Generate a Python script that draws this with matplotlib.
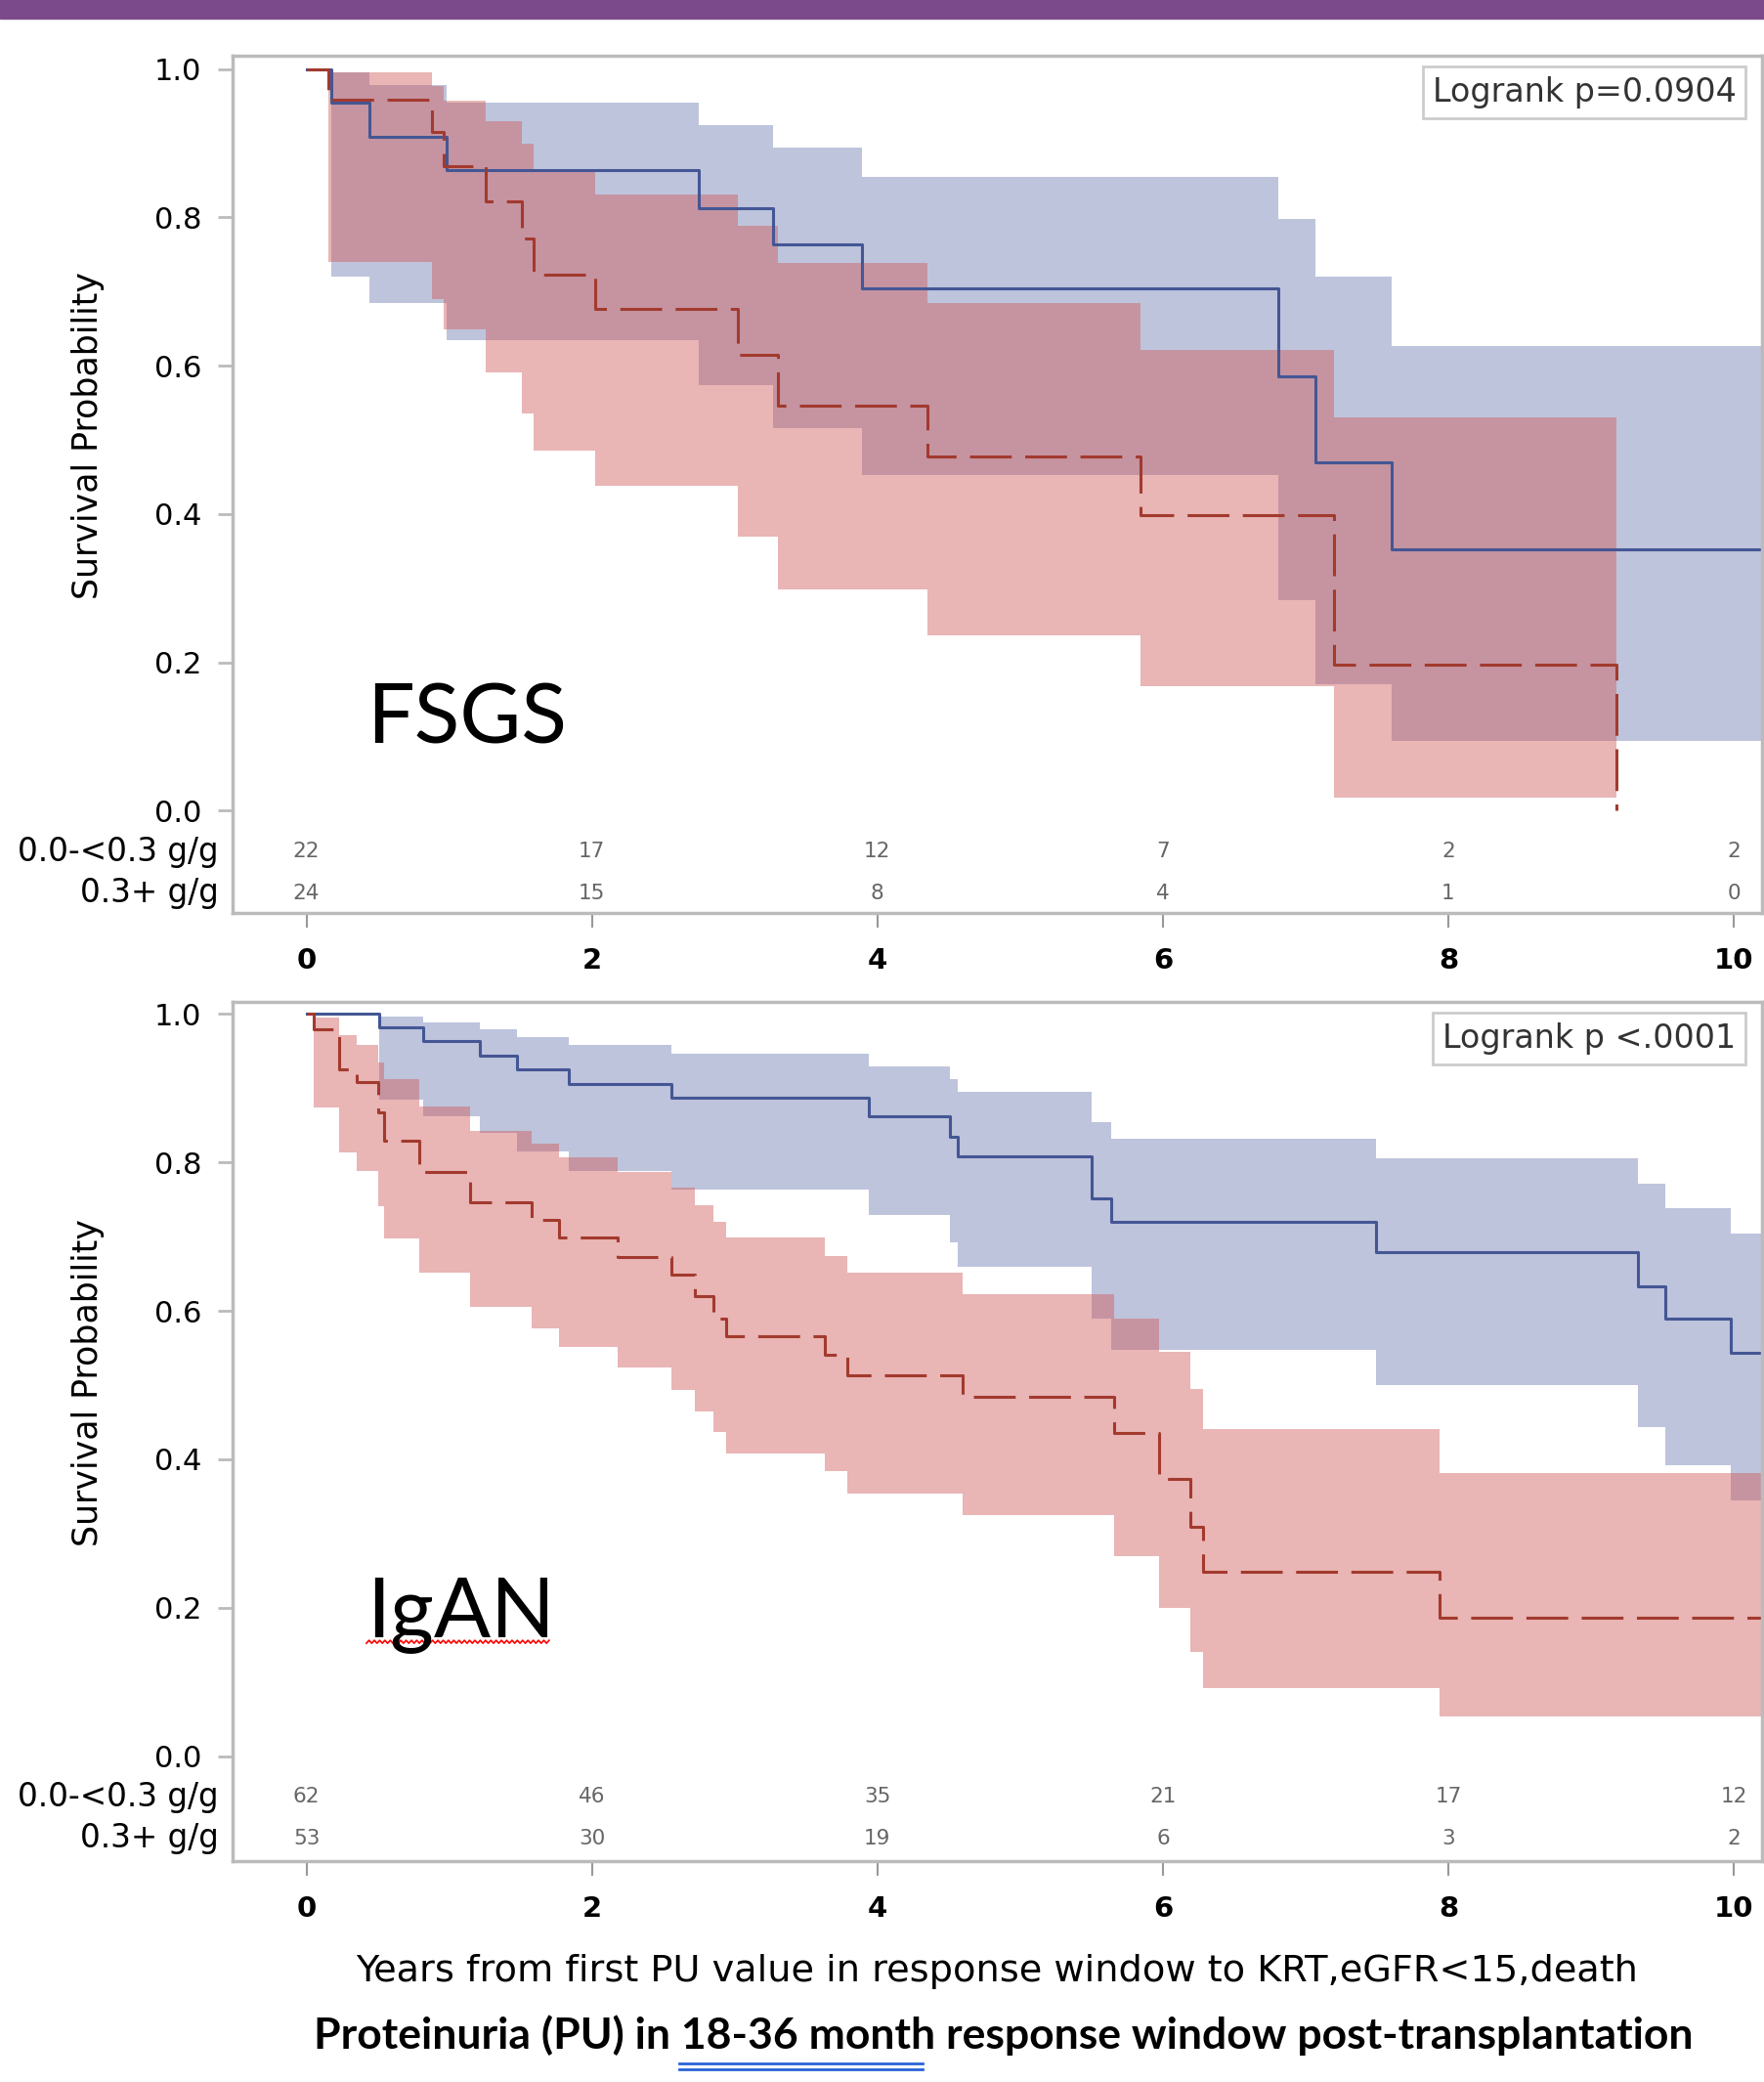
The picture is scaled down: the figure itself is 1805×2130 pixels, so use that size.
import numpy as np
import matplotlib.pyplot as plt
from matplotlib.patches import Rectangle
from matplotlib.lines import Line2D
import matplotlib.transforms as mtransforms

# ---- FSGS panel ----
fsgs_lo_t = [0, 0.175, 0.44, 0.98, 2.75, 3.27, 3.89, 6.81, 7.07, 7.60]
fsgs_lo_s = [1.0, 0.954, 0.908, 0.864, 0.812, 0.763, 0.704, 0.586, 0.469, 0.352]
fsgs_lo_ucl = [1.0, 0.995, 0.978, 0.954, 0.924, 0.894, 0.855, 0.798, 0.720, 0.627]
fsgs_lo_lcl = [1.0, 0.720, 0.685, 0.634, 0.574, 0.516, 0.453, 0.284, 0.171, 0.094]

fsgs_hi_t = [0, 0.154, 0.88, 0.96, 1.255, 1.51, 1.59, 2.02, 3.02, 3.30, 4.35, 5.84, 7.20, 9.18]
fsgs_hi_s = [1.0, 0.958, 0.915, 0.869, 0.821, 0.771, 0.722, 0.677, 0.614, 0.546, 0.478, 0.398, 0.197, 0.0]
fsgs_hi_ucl = [1.0, 0.995, 0.977, 0.957, 0.929, 0.899, 0.864, 0.831, 0.788, 0.738, 0.685, 0.621, 0.530, 0.0]
fsgs_hi_lcl = [1.0, 0.740, 0.690, 0.649, 0.591, 0.536, 0.485, 0.438, 0.369, 0.299, 0.237, 0.168, 0.018, 0.0]

# ---- IgAN panel ----
igan_lo_t = [0, 0.51, 0.815, 1.217, 1.473, 1.84, 2.56, 3.94, 4.51, 4.56, 5.50, 5.64, 7.49, 9.33, 9.52, 9.98]
igan_lo_s = [1.0, 0.982, 0.964, 0.944, 0.926, 0.906, 0.887, 0.862, 0.834, 0.808, 0.751, 0.720, 0.679, 0.633, 0.589, 0.543]
igan_lo_ucl = [1.0, 0.997, 0.989, 0.980, 0.969, 0.959, 0.946, 0.930, 0.912, 0.895, 0.854, 0.832, 0.805, 0.772, 0.738, 0.704]
igan_lo_lcl = [1.0, 0.885, 0.862, 0.840, 0.815, 0.789, 0.764, 0.729, 0.692, 0.659, 0.590, 0.548, 0.500, 0.443, 0.392, 0.344]

igan_hi_t = [0, 0.05, 0.23, 0.35, 0.50, 0.545, 0.79, 1.146, 1.577, 1.768, 2.18, 2.56, 2.72, 2.85,
             2.94, 3.63, 3.79, 4.60, 5.66, 5.97, 6.19, 6.28, 7.94]
igan_hi_s = [1.0, 0.980, 0.925, 0.908, 0.868, 0.830, 0.787, 0.746, 0.723, 0.699, 0.673, 0.649, 0.620, 0.590,
             0.566, 0.541, 0.513, 0.484, 0.435, 0.374, 0.309, 0.248, 0.186]
igan_hi_ucl = [1.0, 0.996, 0.971, 0.959, 0.935, 0.912, 0.876, 0.843, 0.825, 0.807, 0.787, 0.766, 0.742, 0.720,
               0.699, 0.674, 0.651, 0.623, 0.590, 0.545, 0.495, 0.441, 0.381]
igan_hi_lcl = [1.0, 0.874, 0.813, 0.788, 0.741, 0.697, 0.651, 0.605, 0.577, 0.551, 0.524, 0.493, 0.465, 0.437,
               0.408, 0.384, 0.354, 0.325, 0.269, 0.199, 0.140, 0.092, 0.053]

# number at risk
risk_times = [0, 2, 4, 6, 8, 10]
fsgs_risk_lo = [22, 17, 12, 7, 2, 2]
fsgs_risk_hi = [24, 15, 8, 4, 1, 0]
igan_risk_lo = [62, 46, 35, 21, 17, 12]
igan_risk_hi = [53, 30, 19, 6, 3, 2]
group_labels = ['0.0-<0.3 g/g', '0.3+ g/g']

y_ticks = [0.0, 0.2, 0.4, 0.6, 0.8, 1.0]
x_ticks = [0, 2, 4, 6, 8, 10]

blue_line, blue_fill = '#445694', '#6F7EB3'
red_line, red_fill = '#A23A2E', '#D05B5B'
XMAX = 10.198


def km_curve(ax, t, s, lcl, ucl, t_end, fc):
    t = np.append(t, t_end)
    s = np.append(s, s[-1])
    lcl = np.append(lcl, lcl[-1])
    ucl = np.append(ucl, ucl[-1])
    ax.fill_between(t, lcl, ucl, step='post', color=fc, alpha=0.45, lw=0)
    return t, s


def panel(ax, lo, hi, lo_end, hi_end, risk_lo, risk_hi, pval, name, name_y, ylim):
    t1, s1 = km_curve(ax, *lo, lo_end, blue_fill)
    t2, s2 = km_curve(ax, *hi, hi_end, red_fill)
    ax.step(t1, s1, where='post', color=blue_line, lw=2.2)
    ax.step(t2, s2, where='post', color=red_line, lw=2.2, dashes=(14, 4.5))

    ax.set_xlim(-0.517, XMAX)
    ax.set_ylim(*ylim)
    ax.set_yticks(y_ticks)
    ax.set_yticklabels(['%.1f' % v for v in y_ticks], fontsize=22)
    ax.set_xticks(x_ticks)
    ax.set_xticklabels([str(v) for v in x_ticks], fontsize=21, fontweight='bold')
    ax.tick_params(axis='y', length=11, width=2, color='#BBBBBB', pad=12)
    ax.tick_params(axis='x', length=11, width=1.5, color='#999999', pad=14)
    for sp in ax.spines.values():
        sp.set_color('#BBBBBB')
        sp.set_linewidth(2.5)
    ax.set_ylabel('Survival Probability', fontsize=25)
    ax.yaxis.set_label_coords(-0.084, 0.557)

    # number at risk table
    row_y = [-0.055, -0.111]
    trans = mtransforms.blended_transform_factory(ax.transAxes, ax.transData)
    for lab, yy, counts in zip(group_labels, row_y, [risk_lo, risk_hi]):
        ax.text(-0.009, yy, lab, transform=trans, ha='right', va='center', fontsize=23.5,
                clip_on=False)
        for tt, n in zip(risk_times, counts):
            ax.text(tt, yy, str(n), ha='center', va='center', fontsize=15.5, color='#666666')

    ax.text(0.983, 0.957, pval, transform=ax.transAxes, ha='right', va='center',
            fontsize=24, color='#333333',
            bbox=dict(boxstyle='square,pad=0.3', fc='white', ec='#CCCCCC', lw=2))
    ax.text(0.42, name_y, name, fontsize=62, family=['Lato', 'DejaVu Sans'], va='baseline')


fig = plt.figure(figsize=(18.05, 21.30), dpi=100)
fig.patches.append(Rectangle((0, 1 - 19 / 2130), 1, 19 / 2130, transform=fig.transFigure,
                             color='#7B4A8A', zorder=0))

ax1 = fig.add_axes([0.1319, 0.5615, 0.8670, 0.4117])
ax2 = fig.add_axes([0.1319, 0.1061, 0.8670, 0.4127])

panel(ax1, (fsgs_lo_t, fsgs_lo_s, fsgs_lo_lcl, fsgs_lo_ucl),
      (fsgs_hi_t, fsgs_hi_s, fsgs_hi_lcl, fsgs_hi_ucl),
      XMAX, fsgs_hi_t[-1], fsgs_risk_lo, fsgs_risk_hi,
      'Logrank p=0.0904', 'FSGS', 0.091, (-0.1378, 1.0177))
panel(ax2, (igan_lo_t, igan_lo_s, igan_lo_lcl, igan_lo_ucl),
      (igan_hi_t, igan_hi_s, igan_hi_lcl, igan_hi_ucl),
      XMAX, XMAX, igan_risk_lo, igan_risk_hi,
      'Logrank p <.0001', 'IgAN', 0.161, (-0.1416, 1.0165))

# spell-check squiggle under IgAN
zx = np.linspace(0.42, 1.70, 70)
zy = 0.152 + 0.004 * (np.arange(70) % 2)
ax2.plot(zx, zy, color='red', lw=1.2)

fig.text(0.565, 0.0532, 'Years from first PU value in response window to KRT,eGFR<15,death',
         ha='center', va='center', fontsize=27.5)
fig.text(0.569, 0.0225, 'Proteinuria (PU) in 18-36 month response window post-transplantation',
         ha='center', va='center', fontsize=32, fontweight='bold', family=['Lato', 'DejaVu Sans'])
for yy in (0.0090, 0.0062):
    fig.add_artist(Line2D([0.385, 0.523], [yy, yy], transform=fig.transFigure,
                          color='#2A62D8', lw=2))

fig.savefig('out.png', dpi=100)
